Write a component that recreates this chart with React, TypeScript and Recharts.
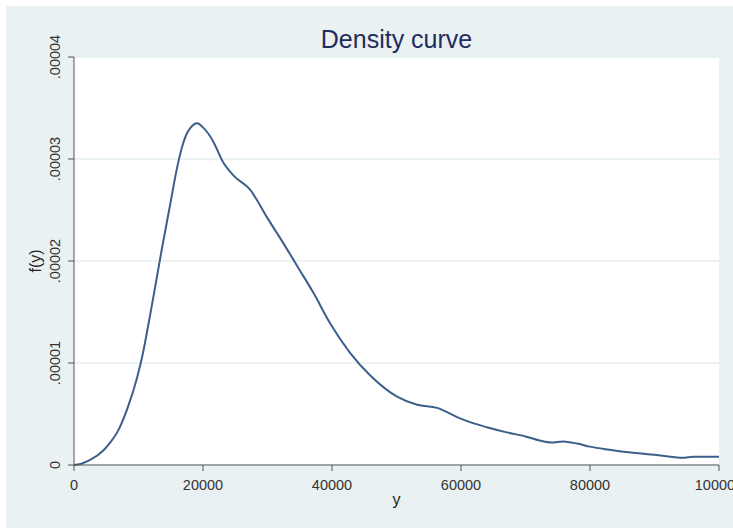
import { LineChart, Line, XAxis, YAxis, CartesianGrid, Label } from "recharts";

// kernel density estimate
const yValues = [
  0, 1000, 2500, 4500, 5600, 6700, 8200, 9800, 10700, 11800, 12900, 13600, 14900, 16100,
  16900, 17500, 18000, 19100, 20000, 21600, 23100, 24700, 27300, 29900, 32400, 35000,
  37100, 39700, 42800, 45900, 50100, 53200, 56300, 59400, 61400, 64000, 67100, 70000,
  72200, 74000, 75800, 78000, 80000, 83000, 86700, 90000, 94400, 96000, 100000,
];
const densities = [
  0, 0.0000001, 0.0000005, 0.0000014, 0.0000022, 0.0000032, 0.0000054, 0.0000086,
  0.000011, 0.0000147, 0.0000186, 0.0000211, 0.0000255, 0.0000295, 0.0000315, 0.0000325,
  0.000033, 0.0000335, 0.0000331, 0.0000317, 0.0000297, 0.0000284, 0.000027, 0.0000243,
  0.0000218, 0.0000191, 0.0000169, 0.0000139, 0.000011, 0.0000088, 0.0000067, 0.0000059,
  0.0000056, 0.0000047, 0.0000042, 0.0000037, 0.0000032, 0.0000028, 0.0000024, 0.0000022,
  0.0000023, 0.0000021, 0.0000018, 0.0000015, 0.0000012, 0.000001, 0.0000007, 0.0000008,
  0.0000008,
];

const xTicks = [0, 20000, 40000, 60000, 80000, 100000];
const yTicks = [0, 0.00001, 0.00002, 0.00003, 0.00004];
const yTickLabels = ["0", ".00001", ".00002", ".00003", ".00004"];

const data = yValues.map((y, i) => ({ y, f: densities[i] }));

const FONT = '"Liberation Sans", Arial, sans-serif';

function YTick(props: any) {
  const { x, y, payload } = props;
  const idx = yTicks.indexOf(payload.value);
  return (
    <text
      x={x - 6}
      y={y}
      transform={`rotate(-90, ${x - 6}, ${y})`}
      textAnchor="middle"
      fontSize={14.5}
      fontFamily={FONT}
      fill="#333"
    >
      {idx >= 0 ? yTickLabels[idx] : payload.value}
    </text>
  );
}

function YLabel(props: any) {
  const vb = props.viewBox;
  const cx = vb.x + 35;
  const cy = vb.y + vb.height / 2;
  return (
    <text
      x={cx}
      y={cy}
      transform={`rotate(-90, ${cx}, ${cy})`}
      textAnchor="middle"
      fontSize={16}
      fontFamily={FONT}
      fill="#222"
    >
      f(y)
    </text>
  );
}

export default function App() {
  return (
    <div
      style={{
        position: "absolute",
        left: 6,
        top: 6,
        width: 727,
        height: 522,
        background: "#e9f1f3",
        fontFamily: FONT,
      }}
    >
      <div
        style={{
          position: "absolute",
          left: 68,
          width: 645,
          top: 21,
          textAlign: "center",
          fontSize: 25,
          lineHeight: "24px",
          color: "#1f2d5c",
        }}
      >
        Density curve
      </div>
      <LineChart
        width={727}
        height={522}
        data={data}
        margin={{ top: 51, right: 14, left: 0, bottom: 0 }}
      >
        <CartesianGrid vertical={false} stroke="#e6eff0" strokeWidth={1.5} fill="#ffffff" />
        <XAxis
          dataKey="y"
          type="number"
          domain={[0, 100000]}
          ticks={xTicks}
          interval={0}
          height={63}
          stroke="#555"
          tickSize={6}
          tickMargin={9}
          tick={{ fontSize: 14.5, fill: "#333", fontFamily: FONT }}
        >
          <Label
            value="y"
            position="insideBottom"
            offset={23}
            style={{ fontSize: 16, fill: "#222", fontFamily: FONT }}
          />
        </XAxis>
        <YAxis
          type="number"
          domain={[0, 0.00004]}
          ticks={yTicks}
          interval={0}
          width={68}
          stroke="#555"
          tickSize={6}
          tickMargin={2}
          tick={<YTick />}
        >
          <Label content={<YLabel />} />
        </YAxis>
        <Line
          type="monotone"
          dataKey="f"
          stroke="#3c5f8b"
          strokeWidth={2}
          dot={false}
          isAnimationActive={false}
        />
      </LineChart>
    </div>
  );
}
